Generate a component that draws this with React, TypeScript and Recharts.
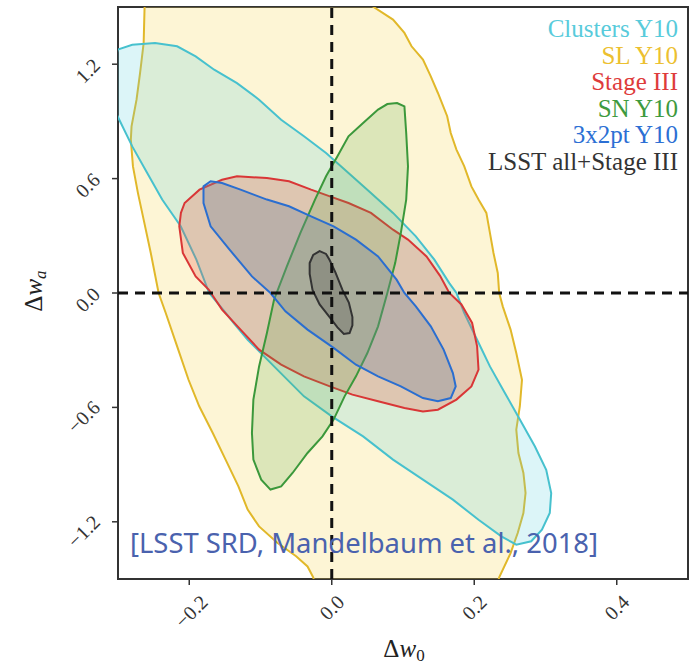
import { ScatterChart, Scatter, XAxis, YAxis, ReferenceArea, Legend } from 'recharts';

type Pt = [number, number];

// contour outlines, (Δw0, Δwa)
const CLUSTERS_Y10: Pt[] = [
    [-0.31, 1.1], [-0.3006, 1.276], [-0.28, 1.302], [-0.248, 1.311], [-0.217, 1.294], [-0.191, 1.241],
    [-0.165, 1.171], [-0.133, 1.101], [-0.102, 1.014], [-0.071, 0.909], [-0.039, 0.822], [-0.008, 0.734],
    [0.0235, 0.629], [0.055, 0.524], [0.086, 0.42], [0.118, 0.297], [0.144, 0.175], [0.165, 0.052],
    [0.175, 0.0], [0.186, -0.105], [0.204, -0.245], [0.222, -0.385], [0.243, -0.524], [0.264, -0.664],
    [0.285, -0.804], [0.301, -0.927], [0.308, -1.049], [0.306, -1.154], [0.295, -1.241], [0.28, -1.302],
    [0.259, -1.32], [0.238, -1.276], [0.206, -1.189], [0.17, -1.084], [0.128, -0.979], [0.086, -0.874],
    [0.044, -0.752], [0.0, -0.647], [-0.039, -0.542], [-0.081, -0.385], [-0.118, -0.245], [-0.137, -0.16],
    [-0.152, -0.09], [-0.172, 0.0], [-0.19, 0.175], [-0.212, 0.35], [-0.238, 0.49], [-0.259, 0.629],
    [-0.28, 0.769], [-0.3006, 0.927], [-0.31, 1.0],
];

const SL_Y10: Pt[] = [
    [-0.262, 1.6], [-0.264, 1.311], [-0.269, 1.154], [-0.274, 1.014], [-0.281, 0.874], [-0.282, 0.804],
    [-0.279, 0.664], [-0.272, 0.524], [-0.264, 0.385], [-0.254, 0.21], [-0.243, 0.0], [-0.233, -0.105],
    [-0.217, -0.28], [-0.201, -0.455], [-0.186, -0.594], [-0.167, -0.734], [-0.149, -0.874], [-0.131, -1.014],
    [-0.118, -1.136], [-0.102, -1.224], [-0.076, -1.311], [-0.05, -1.381], [-0.034, -1.434], [-0.026, -1.491],
    [-0.02, -1.6], [0.228, -1.6], [0.235, -1.491], [0.251, -1.364], [0.261, -1.259], [0.269, -1.154],
    [0.272, -1.049], [0.269, -0.944], [0.262, -0.839], [0.259, -0.717], [0.264, -0.594], [0.267, -0.455],
    [0.259, -0.315], [0.251, -0.192], [0.24, -0.07], [0.235, 0.0], [0.233, 0.105], [0.227, 0.21],
    [0.222, 0.315], [0.217, 0.42], [0.206, 0.49], [0.196, 0.559], [0.186, 0.664], [0.175, 0.752],
    [0.167, 0.839], [0.162, 0.927], [0.149, 1.049], [0.139, 1.136], [0.128, 1.224], [0.112, 1.294],
    [0.102, 1.364], [0.086, 1.434], [0.0575, 1.503], [0.05, 1.6],
];

const STAGE_III: Pt[] = [
    [-0.2117, 0.42], [-0.2065, 0.472], [-0.1856, 0.542], [-0.154, 0.594], [-0.133, 0.612], [-0.091, 0.603],
    [-0.06, 0.586], [-0.029, 0.542], [-0.0026, 0.507], [0.0235, 0.472], [0.055, 0.42], [0.086, 0.332],
    [0.107, 0.28], [0.133, 0.192], [0.152, 0.09], [0.165, 0.0], [0.182, -0.06], [0.197, -0.157],
    [0.204, -0.28], [0.206, -0.402], [0.196, -0.49], [0.175, -0.559], [0.149, -0.612], [0.128, -0.621],
    [0.102, -0.603], [0.065, -0.568], [0.029, -0.533], [-0.0026, -0.49], [-0.039, -0.437], [-0.071, -0.376],
    [-0.102, -0.297], [-0.128, -0.192], [-0.154, -0.087], [-0.1725, 0.017], [-0.191, 0.087], [-0.209, 0.21],
    [-0.214, 0.35],
];

const SN_Y10: Pt[] = [
    [0.0915, 0.9965], [0.102, 0.979], [0.1045, 0.839], [0.107, 0.664], [0.1045, 0.49], [0.097, 0.315],
    [0.089, 0.157], [0.078, 0.0], [0.065, -0.175], [0.05, -0.315], [0.034, -0.437], [0.018, -0.542],
    [0.0026, -0.664], [-0.013, -0.752], [-0.034, -0.839], [-0.055, -0.944], [-0.071, -1.014], [-0.086, -1.031],
    [-0.099, -0.979], [-0.11, -0.874], [-0.112, -0.734], [-0.11, -0.559], [-0.102, -0.385], [-0.091, -0.21],
    [-0.081, -0.035], [-0.063, 0.14], [-0.044, 0.315], [-0.0235, 0.49], [-0.008, 0.612], [0.008, 0.717],
    [0.0235, 0.822], [0.044, 0.892], [0.065, 0.962], [0.078, 0.991],
];

const X2PT_Y10: Pt[] = [
    [-0.18, 0.559], [-0.17, 0.586], [-0.154, 0.577], [-0.128, 0.542], [-0.091, 0.49], [-0.06, 0.455],
    [-0.029, 0.402], [0.0026, 0.35], [0.034, 0.28], [0.065, 0.192], [0.091, 0.07], [0.102, 0.0],
    [0.118, -0.07], [0.139, -0.175], [0.157, -0.297], [0.17, -0.42], [0.174, -0.49], [0.167, -0.551],
    [0.149, -0.568], [0.128, -0.551], [0.097, -0.49], [0.065, -0.437], [0.034, -0.376], [0.0026, -0.288],
    [-0.034, -0.192], [-0.065, -0.096], [-0.086, 0.0], [-0.112, 0.087], [-0.144, 0.23], [-0.17, 0.35],
    [-0.18, 0.472],
];

const LSST_ALL: Pt[] = [
    [-0.017, 0.22], [-0.026, 0.2], [-0.031, 0.157], [-0.031, 0.1], [-0.027, 0.016], [-0.017, -0.06],
    [-0.003, -0.126], [0.008, -0.18], [0.017, -0.215], [0.025, -0.21], [0.029, -0.17], [0.029, -0.126],
    [0.024, -0.05], [0.015, 0.016], [0.005, 0.11], [-0.003, 0.173], [-0.008, 0.205],
];

// fiducial cross-hair
const FIDUCIAL_V: Pt[] = [[0, -1.5], [0, 1.5]];
const FIDUCIAL_H: Pt[] = [[-0.3, 0], [0.5, 0]];

const X_TICKS = [-0.2, 0, 0.2, 0.4];
const Y_TICKS = [-1.2, -0.6, 0, 0.6, 1.2];

// legend order
const SERIES = [
    { name: 'Clusters Y10', pts: CLUSTERS_Y10, stroke: '#47c1ce', fill: '#5ccfe0', op: 0.21, text: '#58cbdb' },
    { name: 'SL Y10', pts: SL_Y10, stroke: '#e1b82a', fill: '#f5d650', op: 0.24, text: '#ecc030' },
    { name: 'Stage III', pts: STAGE_III, stroke: '#d93636', fill: '#ea5a44', op: 0.26, text: '#de3b3b' },
    { name: 'SN Y10', pts: SN_Y10, stroke: '#3b983b', fill: '#5aa84a', op: 0.2, text: '#3e9a3e' },
    { name: '3x2pt Y10', pts: X2PT_Y10, stroke: '#2a6ed0', fill: '#78889c', op: 0.34, text: '#2c6fd4' },
    { name: 'LSST all+Stage III', pts: LSST_ALL, stroke: '#333333', fill: '#333333', op: 0.22, text: '#333333' },
];
// SL underneath everything else
const DRAW_ORDER = [1, 0, 2, 3, 4, 5];

const SERIF = '"Liberation Serif", "DejaVu Serif", serif';
const TICK_FS = 20;

const fmt = (v: number) => (v < 0 ? '\u2212' : '') + Math.abs(v).toFixed(1);

const textWidth = (s: string, fs: number) =>
    s.split('').reduce((w, c) => w + (c === '.' ? 0.25 : c === '\u2212' ? 0.56 : 0.5), 0) * fs;

const XTick = ({ x, y, payload }: any) => {
    const label = fmt(payload.value);
    const half = (textWidth(label, TICK_FS) + 13) / (2 * Math.SQRT2);
    const cx = x + (label[0] === '\u2212' ? 2 : 0);
    const cy = y + 7 + half;
    return (
        <text x={cx} y={cy} transform={`rotate(-45 ${cx} ${cy})`} textAnchor="middle" dominantBaseline="central"
            fontFamily={SERIF} fontSize={TICK_FS} fill="#333">
            {label}
        </text>
    );
};

const YTick = ({ x, y, payload }: any) => {
    const label = fmt(payload.value);
    const L = textWidth(label, TICK_FS);
    const cx = x - 9 - (L + 13) / (2 * Math.SQRT2);
    const cy = y + 0.26 * L;
    return (
        <text x={cx} y={cy} transform={`rotate(-45 ${cx} ${cy})`} textAnchor="middle" dominantBaseline="central"
            fontFamily={SERIF} fontSize={TICK_FS} fill="#333">
            {label}
        </text>
    );
};

const renderNothing = () => <g />;
const toXY = (pts: Pt[]) => pts.map(([x, y]) => ({ x, y }));

const LegendBox = () => (
    <div style={{ textAlign: 'right', fontFamily: SERIF, fontSize: 25, lineHeight: '26.6px', whiteSpace: 'nowrap' }}>
        {SERIES.map(s => (
            <div key={s.name} style={{ color: s.text }}>{s.name}</div>
        ))}
    </div>
);

const dashed = { stroke: '#111', strokeWidth: 3, strokeDasharray: '10 7', fill: 'none' };

export default function App() {
    return (
        <div style={{ position: 'absolute', left: 0, top: 0, width: 697, height: 665, background: '#fff' }}>
            <ScatterChart width={697} height={665} margin={{ top: 7, right: 9, bottom: 0, left: 0 }}>
                <XAxis type="number" dataKey="x" domain={[-0.3, 0.5]} allowDataOverflow ticks={X_TICKS}
                    height={86} tickSize={6} tickMargin={2} tick={<XTick />}
                    axisLine={{ stroke: '#333', strokeWidth: 2 }} tickLine={{ stroke: '#333', strokeWidth: 1.5 }} />
                <YAxis type="number" dataKey="y" domain={[-1.5, 1.5]} allowDataOverflow ticks={Y_TICKS}
                    width={118} tickSize={6} tickMargin={2} tick={<YTick />}
                    axisLine={{ stroke: '#333', strokeWidth: 2 }} tickLine={{ stroke: '#333', strokeWidth: 1.5 }} />
                <ReferenceArea x1={-0.3} x2={0.5} y1={-1.5} y2={1.5} fill="none" stroke="#333" strokeWidth={2} />
                {DRAW_ORDER.map(i => SERIES[i]).map(s => (
                    <Scatter key={s.name} name={s.name} data={toXY(s.pts)}
                        fill={s.stroke} shape={renderNothing} isAnimationActive={false}
                        line={{ stroke: s.stroke, strokeWidth: 2, fill: s.fill, fillOpacity: s.op }}
                        lineJointType="linearClosed" />
                ))}
                <Scatter name="fiducial-v" data={toXY(FIDUCIAL_V)} shape={renderNothing} legendType="none"
                    isAnimationActive={false} line={dashed} />
                <Scatter name="fiducial-h" data={toXY(FIDUCIAL_H)} shape={renderNothing} legendType="none"
                    isAnimationActive={false} line={dashed} />
                <Legend layout="vertical" align="center" verticalAlign="middle" content={<LegendBox />}
                    wrapperStyle={{ top: 16, right: 19, left: 'auto', bottom: 'auto', width: 'auto', height: 'auto' }} />
            </ScatterChart>
            <svg width={697} height={665} style={{ position: 'absolute', left: 0, top: 0, pointerEvents: 'none' }}>
                <text x={404} y={657} textAnchor="middle" fontFamily={SERIF} fontSize={25} fill="#222">
                    Δ<tspan fontStyle="italic">w</tspan><tspan fontSize={17} dy={4}>0</tspan>
                </text>
                <text x={42} y={291} transform="rotate(-90 42 291)" textAnchor="middle" fontFamily={SERIF} fontSize={25} fill="#222">
                    Δ<tspan fontStyle="italic">w</tspan><tspan fontSize={17} fontStyle="italic" dy={4}>a</tspan>
                </text>
                <text x={130} y={553} fontFamily='"Noto Sans", sans-serif' fontSize={28} fill="#4a62ae"
                    textLength={468} lengthAdjust="spacingAndGlyphs">
                    [LSST SRD, Mandelbaum et al., 2018]
                </text>
            </svg>
        </div>
    );
}
